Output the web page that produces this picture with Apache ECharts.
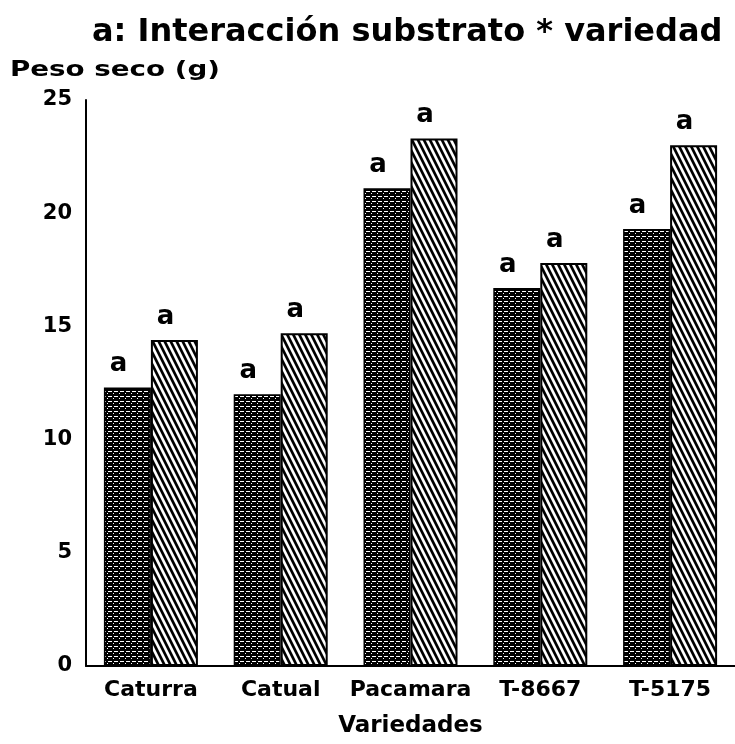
<!DOCTYPE html>
<html>
<head>
<meta charset="utf-8">
<title>Interacción substrato * variedad</title>
<script src="https://cdn.jsdelivr.net/npm/echarts@6/dist/echarts.min.js"></script>
<style>
html, body { margin: 0; padding: 0; background: #fff; }
#chart { width: 735px; height: 744px; }
</style>
</head>
<body>
<div id="chart"></div>
<script>
// valores (peso seco en g)
var variedades = ['Caturra', 'Catual', 'Pacamara', 'T-8667', 'T-5175'];
var sustrato1 = [12.3, 12.0, 21.1, 16.7, 19.3];
var sustrato2 = [14.4, 14.7, 23.3, 17.8, 23.0];
var letras1 = ['a', 'a', 'a', 'a', 'a'];
var letras2 = ['a', 'a', 'a', 'a', 'a'];
var yMin = 0, yMax = 25, yPaso = 5;

var fuente = '"DejaVu Sans", sans-serif';

// trama oscura con puntitos blancos
function tramaPuntos() {
  var c = document.createElement('canvas');
  c.width = 6; c.height = 5;
  var ctx = c.getContext('2d');
  ctx.fillStyle = '#000';
  ctx.fillRect(0, 0, 6, 5);
  ctx.fillStyle = '#fff';
  ctx.fillRect(0, 1, 4, 1);
  ctx.fillRect(5, 3, 1, 1);
  return c;
}

// rayado diagonal "\\\"
function tramaRayas() {
  var c = document.createElement('canvas');
  c.width = 6; c.height = 12;
  var ctx = c.getContext('2d');
  ctx.fillStyle = '#fff';
  ctx.fillRect(0, 0, 6, 12);
  ctx.strokeStyle = '#000';
  ctx.lineWidth = 2.7;
  for (var k = -2; k <= 2; k++) {
    ctx.beginPath();
    ctx.moveTo(k * 6 - 6, -12);
    ctx.lineTo(k * 6 + 12, 24);
    ctx.stroke();
  }
  return c;
}

var chart = echarts.init(document.getElementById('chart'));

function etiqueta(letras) {
  return {
    show: true,
    position: 'top',
    distance: 10,
    offset: [-9, 0],
    formatter: function (p) { return letras[p.dataIndex]; },
    color: '#000',
    fontFamily: fuente,
    fontWeight: 'bold',
    fontSize: 26
  };
}

chart.setOption({
  backgroundColor: '#fff',
  animation: false,
  title: {
    text: 'a: Interacción substrato * variedad',
    left: 87,
    top: 12,
    textStyle: { fontFamily: fuente, fontWeight: 'bold', fontSize: 32, color: '#000' }
  },
  graphic: [{
    type: 'text',
    x: 10,
    y: 71,
    scaleX: 1.32,
    style: {
      text: 'Peso seco (g)',
      font: 'bold 21px "DejaVu Sans", sans-serif',
      fill: '#000',
      verticalAlign: 'middle'
    }
  }],
  grid: { left: 86, right: -7, top: 100, bottom: 78 },
  xAxis: {
    type: 'category',
    data: variedades,
    name: 'Variedades',
    nameLocation: 'middle',
    nameGap: 49,
    nameTextStyle: { fontFamily: fuente, fontWeight: 'bold', fontSize: 23, color: '#000' },
    axisLine: { lineStyle: { color: '#000', width: 2 } },
    axisTick: { show: false },
    axisLabel: { interval: 0, margin: 13, fontFamily: fuente, fontWeight: 'bold', fontSize: 22, color: '#000' }
  },
  yAxis: {
    type: 'value',
    min: yMin,
    max: yMax,
    interval: yPaso,
    axisLine: { show: true, lineStyle: { color: '#000', width: 2 } },
    axisTick: { show: false },
    splitLine: { show: false },
    axisLabel: { margin: 14, padding: [6, 0, 0, 0], fontFamily: fuente, fontWeight: 'bold', fontSize: 21, color: '#000' }
  },
  series: [
    {
      name: 'Sustrato 1',
      type: 'bar',
      data: sustrato1,
      barWidth: 47,
      barGap: '0%',
      itemStyle: { color: { image: tramaPuntos(), repeat: 'repeat' }, borderColor: '#000', borderWidth: 1.5 },
      label: etiqueta(letras1)
    },
    {
      name: 'Sustrato 2',
      type: 'bar',
      data: sustrato2,
      barWidth: 47,
      barGap: '0%',
      itemStyle: { color: { image: tramaRayas(), repeat: 'repeat' }, borderColor: '#000', borderWidth: 2 },
      label: etiqueta(letras2)
    }
  ]
});
</script>
</body>
</html>
